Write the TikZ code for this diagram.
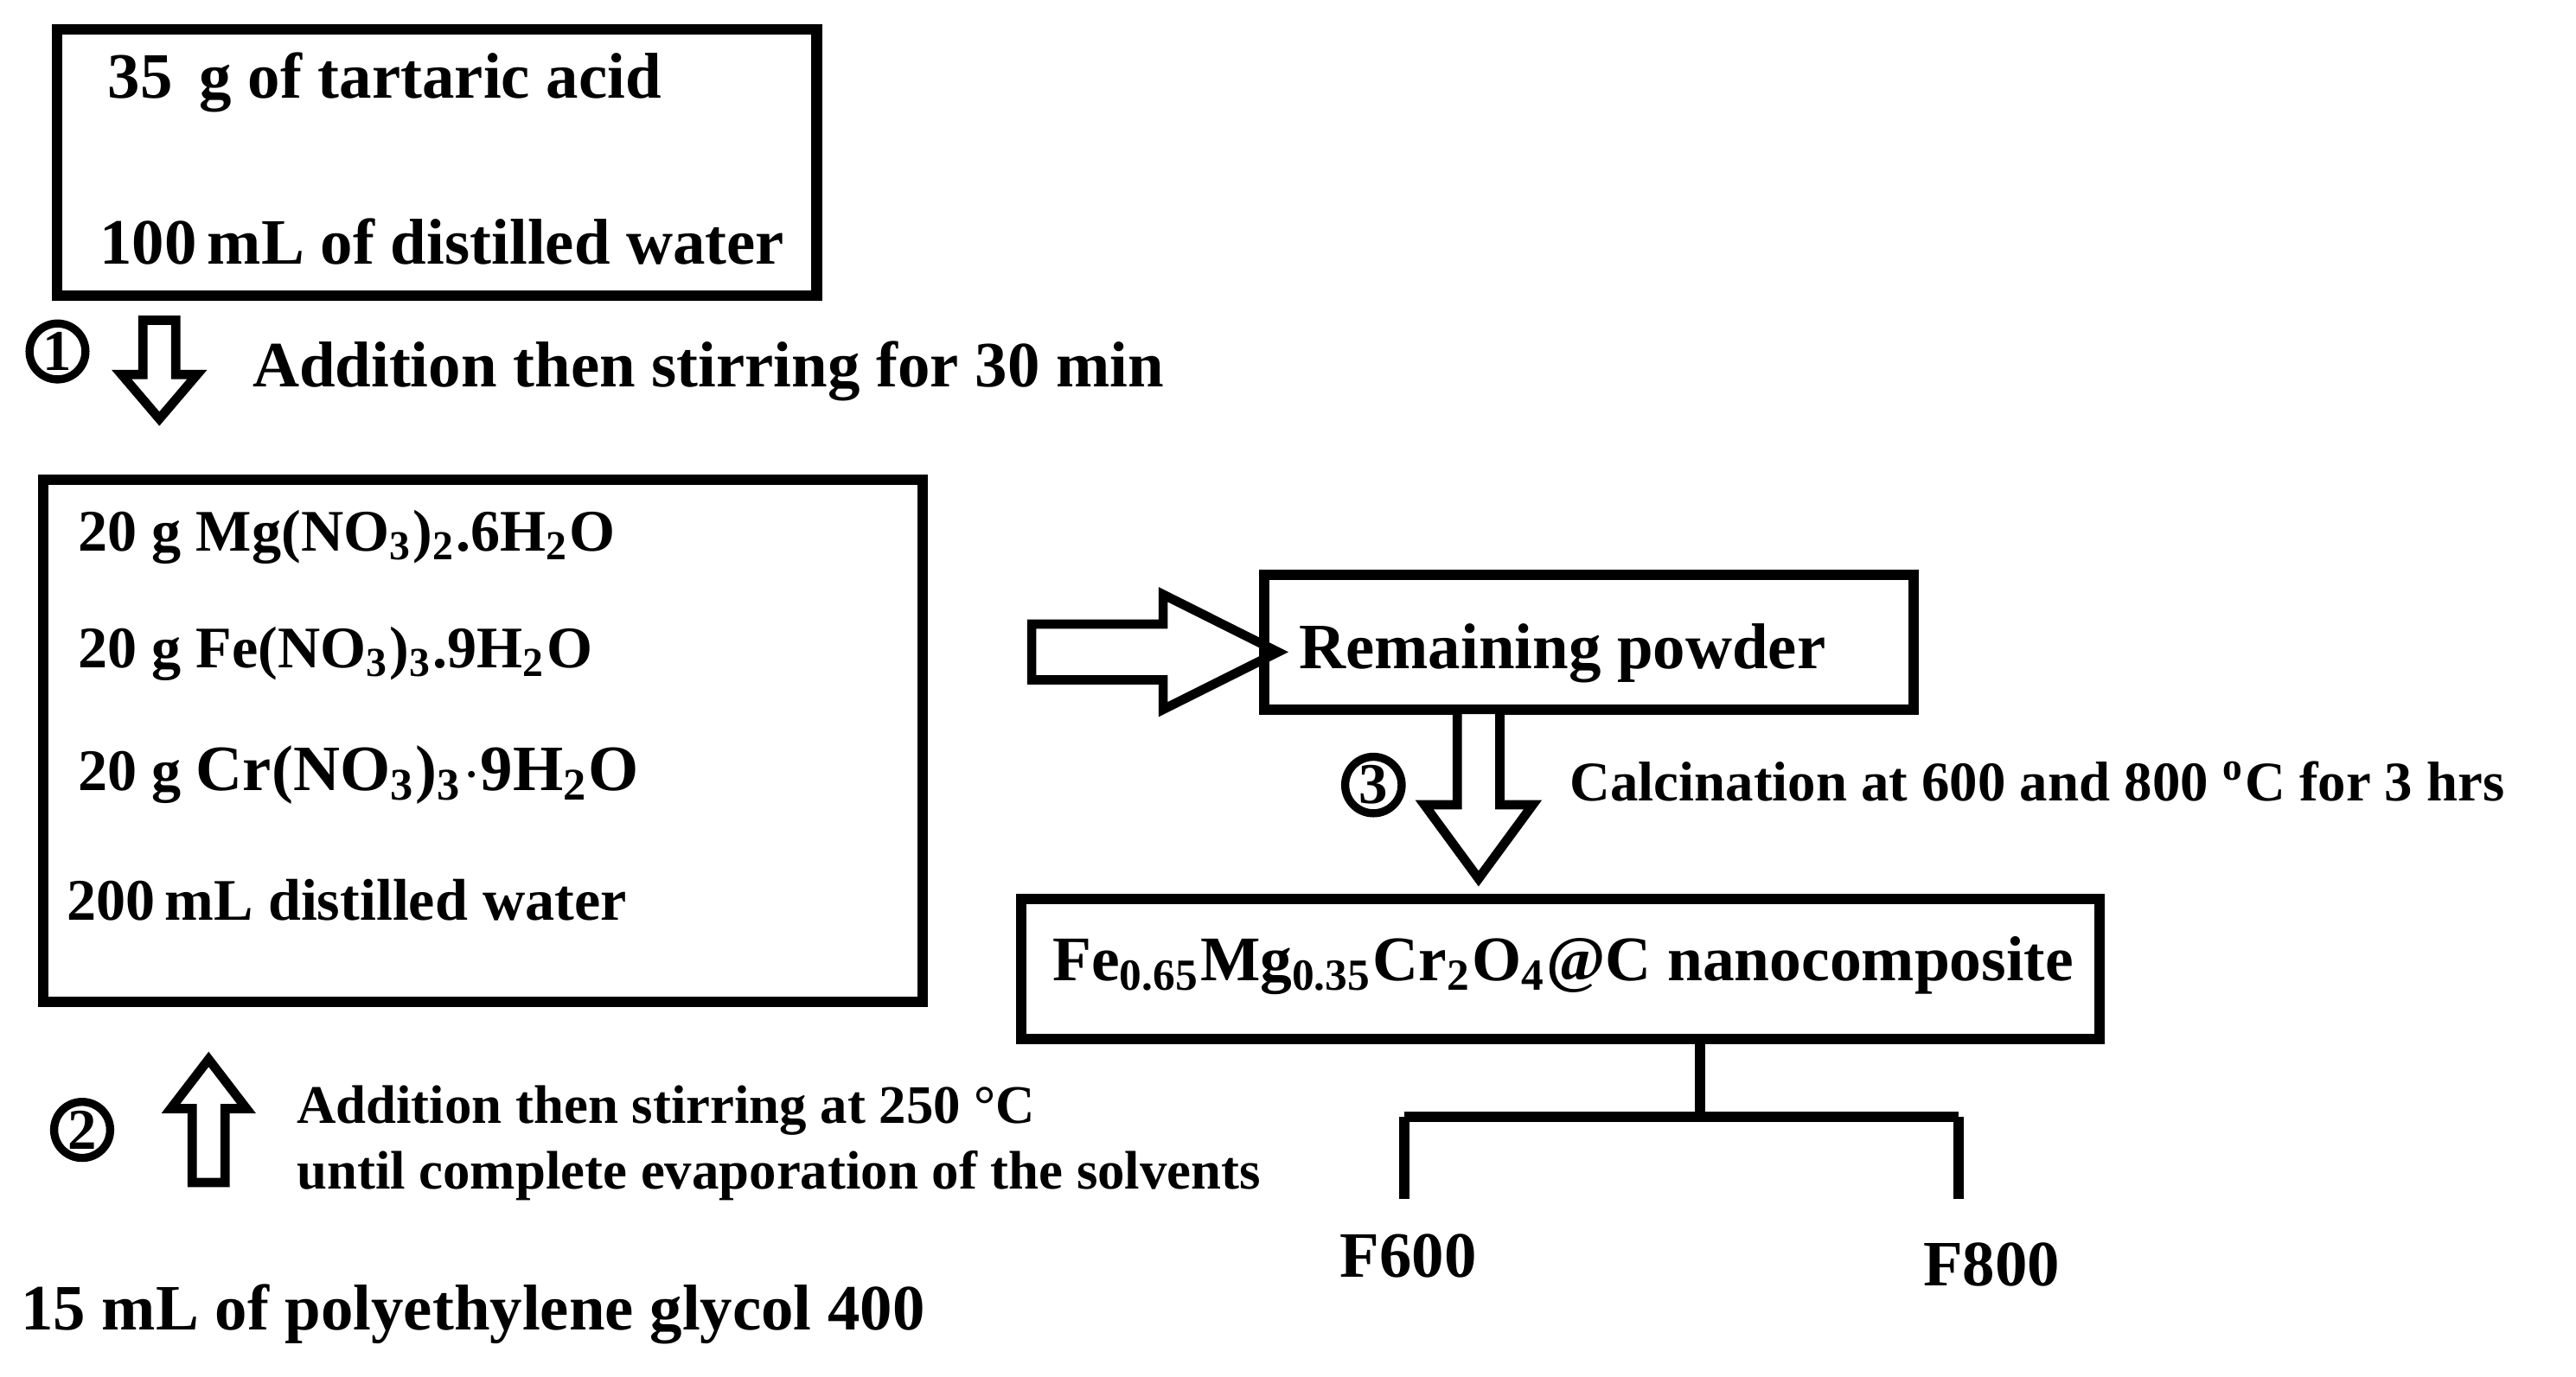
\documentclass[tikz,border=0pt]{standalone}
\usepackage{fontspec}
\setmainfont{Liberation Serif}
\begin{document}
\begin{tikzpicture}[x=0.01cm,y=-0.01cm,
  box/.style={draw,line width=1.8pt},
  big/.style={font=\fontsize{11.2}{13}\selectfont\bfseries,anchor=west,inner sep=0},
  mid/.style={font=\fontsize{10.2}{12}\selectfont\bfseries,anchor=west,inner sep=0},
  sm/.style={font=\fontsize{9.4}{11.5}\selectfont\bfseries,anchor=west,inner sep=0,align=left},
  num/.style={circle,draw,line width=1.4pt,inner sep=0.5pt,minimum size=0.34cm,font=\fontsize{10}{10}\selectfont\bfseries},
  hol/.style={draw,line width=1.6pt,fill=white}]
\useasboundingbox (0,0) rectangle (1568,838);
\node[box,minimum width=4.62cm,minimum height=1.62cm] (b1) at (266,99) {};
\node[big] (t1) at (65,50) {35\, g of tartaric acid};
\node[big] (t2) at (60,147) {100\,mL of distilled water};
\node[num] (n1) at (35,214) {1};
\draw[hol] (87,195)--(107,195)--(107,228)--(120,228)--(97,255)--(74,228)--(87,228)--cycle;
\node[big] (s1) at (153,226) {Addition then stirring for 30 min};
\node[box,minimum width=5.35cm,minimum height=3.18cm] (b2) at (294,451) {};
\node[mid] (m1) at (47,327) {20 g Mg(NO\textsubscript{3})\textsubscript{2}.6H\textsubscript{2}O};
\node[mid] (m2) at (47,398) {20 g Fe(NO\textsubscript{3})\textsubscript{3}.9H\textsubscript{2}O};
\node[mid] (m3) at (47,472) {20 g \fontsize{11.2}{13}\selectfont Cr(NO\textsubscript{3})\textsubscript{3}$\cdot$9H\textsubscript{2}O};
\node[mid] (m4) at (40,548) {200\,mL distilled water};
\draw[hol] (628,380)--(708,380)--(708,362)--(778,397)--(708,432)--(708,414)--(628,414)--cycle;
\node[box,minimum width=3.95cm,minimum height=0.82cm] (b3) at (967,391) {};
\node[big] (r) at (790,398) {Remaining powder};
\node[num] (n3) at (836,478) {3};
\draw[hol] (887,432)--(913,432)--(913,490)--(933,490)--(900,535)--(867,490)--(887,490)--cycle;
\node[mid,font=\fontsize{9.7}{12}\selectfont\bfseries] (c) at (955,476) {Calcination at 600 and 800 \textsuperscript{o}C for 3 hrs};
\node[box,minimum width=6.56cm,minimum height=0.85cm] (b4) at (950,590) {};
\node[big,font=\fontsize{11}{13}\selectfont\bfseries] (f) at (640,588) {Fe\textsubscript{0.65}Mg\textsubscript{0.35}Cr\textsubscript{2}O\textsubscript{4}@C nanocomposite};
\coordinate (j) at (1035,680);
\coordinate (l) at (855,680);
\coordinate (r2) at (1192,680);
\draw[line width=1.8pt] (1035,633)--(j) (l)--(r2) (l)--(855,730) (r2)--(1192,730);
\node[big] (f6) at (815,765) {F600};
\node[big] (f8) at (1170,770) {F800};
\node[num] (n2) at (50,688) {2};
\draw[hol] (117,720)--(137,720)--(137,675)--(150,675)--(127,645)--(104,675)--(117,675)--cycle;
\node[sm] (s2) at (180,696) {Addition then stirring at 250 °C\\until complete evaporation of the solvents};
\node[big] (p) at (12,800) {15 mL of polyethylene glycol 400};
\end{tikzpicture}
\end{document}
